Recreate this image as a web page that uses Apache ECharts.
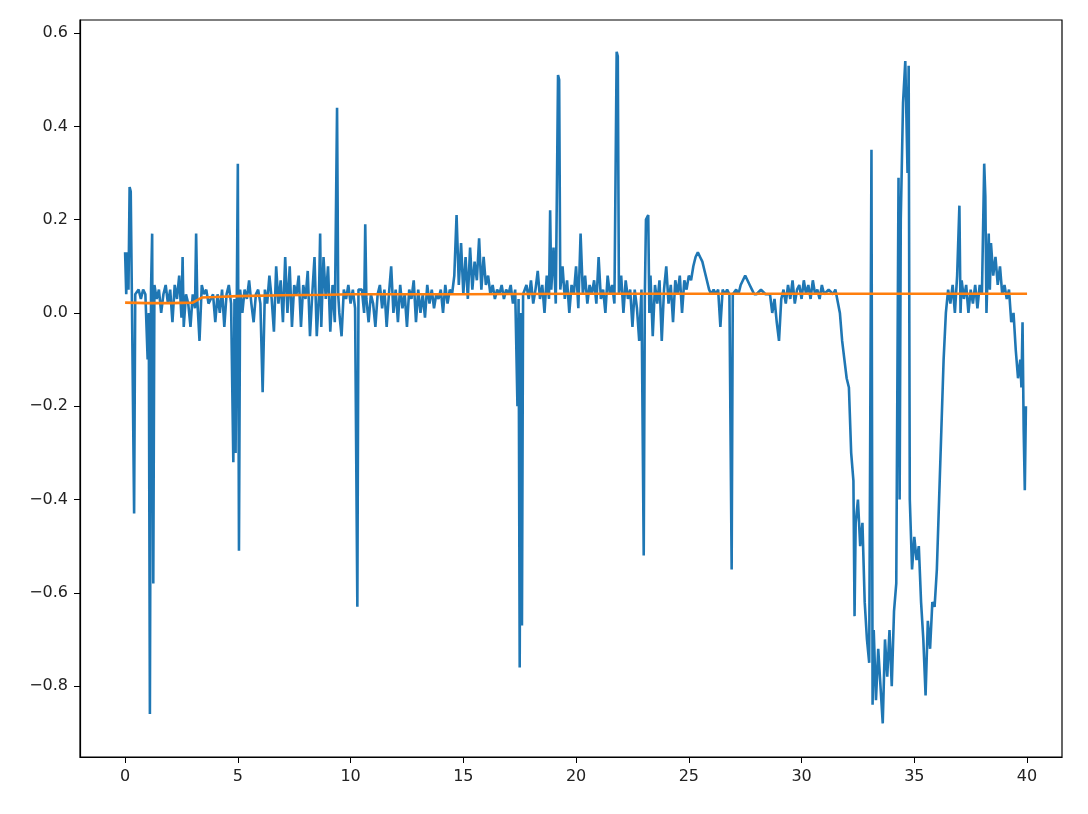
<!DOCTYPE html>
<html><head><meta charset="utf-8">
<script src="https://cdn.jsdelivr.net/npm/echarts@6/dist/echarts.min.js"></script>
<style>html,body{margin:0;padding:0;background:#fff}#c{width:1088px;height:814px}</style>
</head><body><div id="c"></div>
<script>
// blue series as [x, y]
var signal = [
  [0,0.13],[0.05,0.04],[0.1,0.13],[0.15,0.05],[0.2,0.27],[0.25,0.26],[0.3,0.04],[0.4,-0.43],[0.45,0.04],[0.6,0.05],[0.7,0.03],[0.8,0.05],[0.9,0.04],
  [1.0,-0.1],[1.05,0.0],[1.1,-0.86],[1.15,0.05],[1.2,0.17],[1.25,-0.58],[1.3,0.06],[1.4,0.03],[1.5,0.05],[1.6,0.0],[1.7,0.04],[1.8,0.06],
  [1.9,0.02],[2.0,0.05],[2.1,-0.02],[2.2,0.06],[2.3,0.03],[2.4,0.08],[2.5,-0.01],[2.55,0.12],[2.6,-0.03],[2.7,0.04],[2.8,0.02],[2.9,-0.03],
  [3.0,0.04],[3.1,0.01],[3.15,0.17],[3.2,0.03],[3.3,-0.06],[3.4,0.06],[3.5,0.04],[3.6,0.05],[3.7,0.02],[3.8,0.03],[3.9,0.04],[4.0,-0.02],
  [4.1,0.04],[4.2,0.0],[4.3,0.05],[4.4,-0.03],[4.5,0.04],[4.6,0.06],[4.7,0.02],[4.8,-0.32],[4.85,0.03],[4.9,-0.3],[5.0,0.32],[5.05,-0.51],
  [5.1,0.05],[5.2,0.0],[5.3,0.05],[5.4,0.03],[5.5,0.07],[5.6,0.02],[5.7,-0.02],[5.8,0.04],[5.9,0.05],[6.0,0.02],[6.1,-0.17],[6.2,0.05],
  [6.3,0.02],[6.4,0.08],[6.5,0.03],[6.6,-0.04],[6.7,0.1],[6.8,0.02],[6.9,0.07],[7.0,-0.02],[7.1,0.12],[7.2,0.0],[7.3,0.1],[7.4,-0.03],
  [7.5,0.06],[7.6,0.04],[7.7,0.08],[7.8,-0.03],[7.9,0.06],[8.0,0.03],[8.1,0.09],[8.2,-0.05],[8.3,0.04],[8.4,0.12],[8.5,-0.05],[8.6,0.04],
  [8.65,0.17],[8.7,-0.03],[8.8,0.12],[8.9,0.03],[9.0,0.1],[9.1,-0.04],[9.2,0.06],[9.3,-0.02],[9.4,0.44],[9.45,0.04],[9.5,0.0],[9.6,-0.05],
  [9.7,0.05],[9.8,0.03],[9.9,0.06],[10.0,0.02],[10.1,0.05],[10.2,0.01],[10.3,-0.63],[10.35,0.05],[10.5,0.05],[10.6,0.0],[10.65,0.19],[10.7,0.03],
  [10.8,-0.02],[10.9,0.04],[11.0,0.02],[11.1,-0.03],[11.2,0.04],[11.3,0.06],[11.4,0.01],[11.5,0.05],[11.6,-0.03],[11.7,0.04],[11.8,0.1],
  [11.9,0.0],[12.0,0.05],[12.1,-0.02],[12.2,0.06],[12.3,0.01],[12.4,0.04],[12.5,-0.03],[12.6,0.05],[12.7,0.03],[12.8,0.07],[12.9,-0.02],
  [13.0,0.05],[13.1,0.0],[13.2,0.04],[13.3,-0.01],[13.4,0.06],[13.5,0.02],[13.6,0.05],[13.7,0.01],[13.8,0.04],[13.9,0.03],[14.0,0.05],
  [14.1,0.0],[14.2,0.06],[14.3,0.02],[14.4,0.05],[14.5,0.04],[14.6,0.08],[14.7,0.21],[14.8,0.06],[14.9,0.15],[15.0,0.04],[15.1,0.12],[15.2,0.03],
  [15.3,0.14],[15.4,0.05],[15.5,0.11],[15.6,0.07],[15.7,0.16],[15.8,0.05],[15.9,0.12],[16.0,0.06],[16.1,0.08],[16.2,0.04],[16.3,0.06],
  [16.4,0.03],[16.5,0.05],[16.6,0.04],[16.7,0.06],[16.8,0.03],[16.9,0.05],[17.0,0.04],[17.1,0.06],[17.2,0.02],[17.3,0.05],[17.4,-0.2],
  [17.45,0.03],[17.5,-0.76],[17.55,0.0],[17.6,-0.67],[17.65,0.04],[17.8,0.06],[17.9,0.03],[18.0,0.07],[18.1,0.02],[18.2,0.05],[18.3,0.09],
  [18.4,0.03],[18.5,0.06],[18.6,0.0],[18.7,0.08],[18.8,0.03],[18.85,0.22],[18.9,0.05],[19.0,0.14],[19.1,0.02],[19.2,0.51],[19.25,0.5],[19.3,0.05],
  [19.4,0.1],[19.5,0.03],[19.6,0.07],[19.7,0.0],[19.8,0.06],[19.9,0.04],[20.0,0.1],[20.1,0.01],[20.2,0.17],[20.3,0.04],[20.4,0.08],[20.5,0.02],
  [20.6,0.06],[20.7,0.04],[20.8,0.07],[20.9,0.02],[21.0,0.12],[21.1,0.03],[21.2,0.05],[21.3,0.0],[21.4,0.08],[21.5,0.04],[21.6,0.06],
  [21.7,0.02],[21.8,0.56],[21.85,0.55],[21.9,0.04],[22.0,0.08],[22.1,0.0],[22.2,0.07],[22.3,0.03],[22.4,0.05],[22.5,-0.03],[22.6,0.05],
  [22.7,0.01],[22.8,-0.06],[22.9,0.05],[23.0,-0.52],[23.05,0.04],[23.1,0.2],[23.2,0.21],[23.25,0.0],[23.3,0.08],[23.4,-0.05],[23.5,0.06],
  [23.6,0.02],[23.7,0.07],[23.8,-0.06],[23.9,0.05],[24.0,0.1],[24.1,0.02],[24.2,0.06],[24.3,-0.02],[24.4,0.07],[24.5,0.04],[24.6,0.08],
  [24.7,0.0],[24.8,0.07],[24.9,0.05],[25.0,0.08],[25.1,0.07],[25.2,0.1],[25.3,0.12],[25.4,0.13],[25.5,0.12],[25.6,0.11],[25.7,0.09],
  [25.8,0.07],[25.9,0.05],[26.0,0.04],[26.1,0.05],[26.2,0.04],[26.3,0.05],[26.4,-0.03],[26.5,0.05],[26.6,0.04],[26.7,0.05],[26.8,0.04],
  [26.9,-0.55],[26.95,0.04],[27.1,0.05],[27.2,0.04],[27.3,0.06],[27.4,0.07],[27.5,0.08],[27.6,0.07],[27.7,0.06],[27.8,0.05],[27.9,0.04],
  [28.0,0.04],[28.2,0.05],[28.4,0.04],[28.6,0.04],[28.7,0.0],[28.8,0.03],[28.9,-0.02],[29.0,-0.06],[29.1,0.03],[29.2,0.05],[29.3,0.02],
  [29.4,0.06],[29.5,0.03],[29.6,0.07],[29.7,0.02],[29.8,0.05],[29.9,0.06],[30.0,0.03],[30.1,0.07],[30.2,0.04],[30.3,0.06],[30.4,0.03],
  [30.5,0.07],[30.6,0.04],[30.7,0.05],[30.8,0.03],[30.9,0.06],[31.0,0.04],[31.2,0.05],[31.4,0.04],[31.5,0.05],[31.7,0.0],[31.8,-0.06],
  [31.9,-0.1],[32.0,-0.14],[32.1,-0.16],[32.2,-0.3],[32.3,-0.36],[32.35,-0.65],[32.4,-0.45],[32.5,-0.4],[32.6,-0.5],[32.7,-0.45],[32.8,-0.62],
  [32.9,-0.7],[33.0,-0.75],[33.1,0.35],[33.15,-0.84],[33.2,-0.68],[33.3,-0.83],[33.4,-0.72],[33.5,-0.8],[33.6,-0.88],[33.7,-0.7],[33.8,-0.78],
  [33.9,-0.68],[34.0,-0.8],[34.1,-0.64],[34.2,-0.58],[34.3,0.29],[34.35,-0.4],[34.4,0.2],[34.5,0.45],[34.6,0.54],[34.7,0.3],[34.75,0.53],
  [34.8,-0.4],[34.9,-0.55],[35.0,-0.48],[35.1,-0.53],[35.2,-0.5],[35.3,-0.62],[35.4,-0.7],[35.5,-0.82],[35.6,-0.66],[35.7,-0.72],[35.8,-0.62],
  [35.9,-0.63],[36.0,-0.55],[36.1,-0.4],[36.2,-0.25],[36.3,-0.1],[36.4,0.0],[36.5,0.05],[36.6,0.02],[36.7,0.06],[36.8,0.0],[36.9,0.08],
  [37.0,0.23],[37.05,0.0],[37.1,0.07],[37.2,0.03],[37.3,0.06],[37.4,0.0],[37.5,0.05],[37.6,0.02],[37.7,0.06],[37.8,0.01],[37.9,0.06],
  [38.0,0.04],[38.1,0.32],[38.15,0.25],[38.2,0.0],[38.3,0.17],[38.35,0.05],[38.4,0.15],[38.5,0.08],[38.6,0.12],[38.7,0.06],[38.8,0.1],
  [38.9,0.04],[39.0,0.06],[39.1,0.03],[39.2,0.05],[39.3,-0.02],[39.4,0.0],[39.5,-0.08],[39.6,-0.14],[39.7,-0.1],[39.75,-0.16],[39.8,-0.02],
  [39.85,-0.25],[39.9,-0.38],[39.95,-0.2]
];
// orange series
var trend = [
  [0,0.022],[1,0.021],[2,0.021],[3,0.022],[3.4,0.033],[4,0.034],[5,0.036],[7,0.038],[9,0.039],[10,0.04],[15,0.04],[20,0.041],
  [25,0.041],[30,0.041],[35,0.041],[40,0.041]
];
var xTicks = [0, 5, 10, 15, 20, 25, 30, 35, 40];
var yTicks = [-0.8, -0.6, -0.4, -0.2, 0.0, 0.2, 0.4, 0.6];

var chart = echarts.init(document.getElementById('c'), null, { renderer: 'canvas' });
var txt = { color: '#222', fontSize: 16, fontFamily: 'DejaVu Sans' };
chart.setOption({
  animation: false,
  grid: { left: 80, right: 26, top: 20, bottom: 57, show: true, borderColor: '#000', borderWidth: 1.2 },
  xAxis: {
    type: 'value', min: -2, max: 41.55,
    axisLine: { show: true, onZero: false, lineStyle: { color: '#000', width: 1.2 } }, splitLine: { show: false },
    axisTick: { show: true, customValues: xTicks, length: 6, lineStyle: { color: '#000' } },
    axisLabel: Object.assign({ customValues: xTicks, margin: 12, formatter: function(v) { return String(v); } }, txt)
  },
  yAxis: {
    type: 'value', min: -0.952, max: 0.628,
    axisLine: { show: true, onZero: false, lineStyle: { color: '#000', width: 1.2 } }, splitLine: { show: false },
    axisTick: { show: true, customValues: yTicks, length: 6, lineStyle: { color: '#000' } },
    axisLabel: Object.assign({ customValues: yTicks, margin: 12,
      formatter: function(v) { return (v < 0 ? '\u2212' : '') + Math.abs(v).toFixed(1); } }, txt)
  },
  series: [
    { type: 'line', data: signal, symbol: 'none', lineStyle: { color: '#1f77b4', width: 2.6 } },
    { type: 'line', data: trend, symbol: 'none', lineStyle: { color: '#ff7f0e', width: 2.6 } }
  ]
});
</script></body></html>
